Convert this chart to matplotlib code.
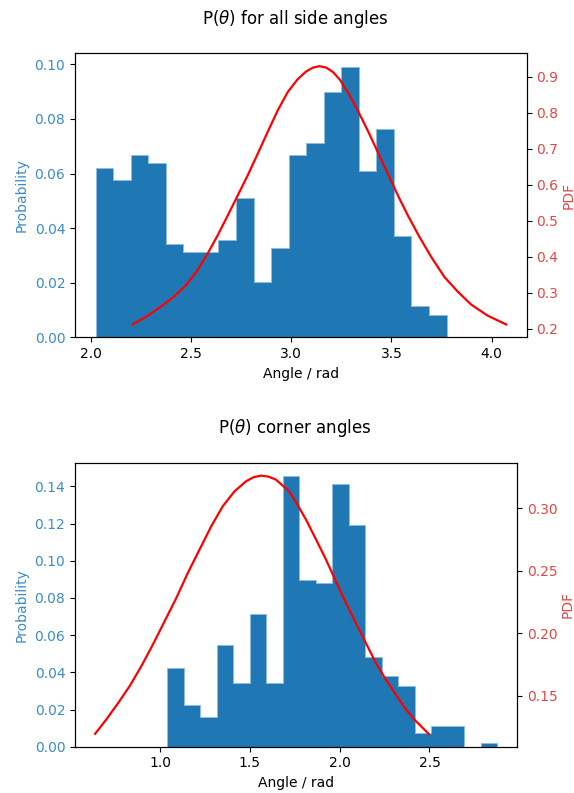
import numpy as np
import matplotlib
matplotlib.use("Agg")
import matplotlib.pyplot as plt

# side angles: histogram (20 equal bins) + pdf curve
side_lo, side_hi = 2.025, 3.775
side_prob = [0.0622, 0.0577, 0.0667, 0.0637, 0.0343, 0.0312, 0.0312, 0.0358, 0.0512, 0.0203,
             0.0328, 0.0667, 0.0712, 0.0897, 0.0991, 0.0608, 0.0762, 0.0372, 0.0113, 0.0083]
side_pdf_x = [2.210, 2.276, 2.342, 2.409, 2.476, 2.534, 2.584, 2.634, 2.684, 2.734, 2.783,
              2.833, 2.883, 2.933, 2.983, 3.033, 3.074, 3.108, 3.141, 3.175, 3.208, 3.241,
              3.282, 3.332, 3.382, 3.432, 3.482, 3.532, 3.582, 3.640, 3.698, 3.764, 3.831,
              3.898, 3.981, 4.072]
side_pdf_y = [0.212, 0.233, 0.258, 0.286, 0.321, 0.363, 0.409, 0.460, 0.515, 0.571, 0.626,
              0.686, 0.747, 0.807, 0.858, 0.894, 0.915, 0.926, 0.930, 0.926, 0.914, 0.894,
              0.858, 0.807, 0.751, 0.691, 0.631, 0.571, 0.515, 0.455, 0.400, 0.344, 0.303,
              0.267, 0.236, 0.212]

# corner angles
corner_lo, corner_hi = 1.041, 2.877
corner_prob = [0.0421, 0.0225, 0.0159, 0.0546, 0.0341, 0.0715, 0.0341, 0.1455, 0.0899, 0.0883,
               0.1413, 0.1191, 0.0482, 0.0378, 0.0326, 0.0071, 0.0112, 0.0112, 0.0, 0.0018]
corner_pdf_x = [0.638, 0.703, 0.767, 0.832, 0.897, 0.961, 1.026, 1.091, 1.155, 1.220, 1.285,
                1.349, 1.414, 1.478, 1.520, 1.561, 1.603, 1.645, 1.718, 1.757, 1.812, 1.868,
                1.923, 1.978, 2.034, 2.089, 2.144, 2.200, 2.255, 2.310, 2.366, 2.421, 2.495]
corner_pdf_y = [0.1194, 0.1314, 0.1442, 0.1580, 0.1740, 0.1913, 0.2099, 0.2285, 0.2485, 0.2672,
                0.2858, 0.3018, 0.3137, 0.3217, 0.3250, 0.3263, 0.3255, 0.3231, 0.3137, 0.3050,
                0.2911, 0.2752, 0.2592, 0.2419, 0.2245, 0.2086, 0.1926, 0.1766, 0.1633, 0.1514,
                0.1394, 0.1300, 0.1194]

BLUE = '#3d8cc6'
RED = '#e04848'


def draw(fig, rect, lo, hi, prob, px, py, title, title_y):
    ax = fig.add_axes(rect)
    edges = np.linspace(lo, hi, len(prob) + 1)
    ax.hist(edges[:-1], bins=edges, weights=prob, histtype='stepfilled',
            facecolor='#1f77b4', edgecolor='#8fbde0', linewidth=0.7)
    ax.set_xlabel('Angle / rad')
    ax.set_ylabel('Probability', color=BLUE)
    ax.tick_params(axis='y', labelcolor=BLUE)

    ax2 = ax.twinx()
    ax2.plot(px, py, color='r', lw=1.6)
    ax2.set_ylabel('PDF', color=RED, labelpad=2)
    ax2.tick_params(axis='y', labelcolor=RED)

    fig.text(0.514, title_y, title, ha='center', va='center', fontsize=12)
    return ax, ax2


fig = plt.figure(figsize=(5.74, 7.93), dpi=100)

draw(fig, [0.1307, 0.5746, 0.7869, 0.3582], side_lo, side_hi, side_prob,
     side_pdf_x, side_pdf_y, r'P($\theta$) for all side angles', 0.976)
ax, ax2 = draw(fig, [0.1307, 0.0584, 0.7705, 0.3581], corner_lo, corner_hi, corner_prob,
               corner_pdf_x, corner_pdf_y, r'P($\theta$) corner angles', 0.460)
ax2.set_yticks([0.15, 0.20, 0.25, 0.30])

fig.savefig('out.png', dpi=100)
